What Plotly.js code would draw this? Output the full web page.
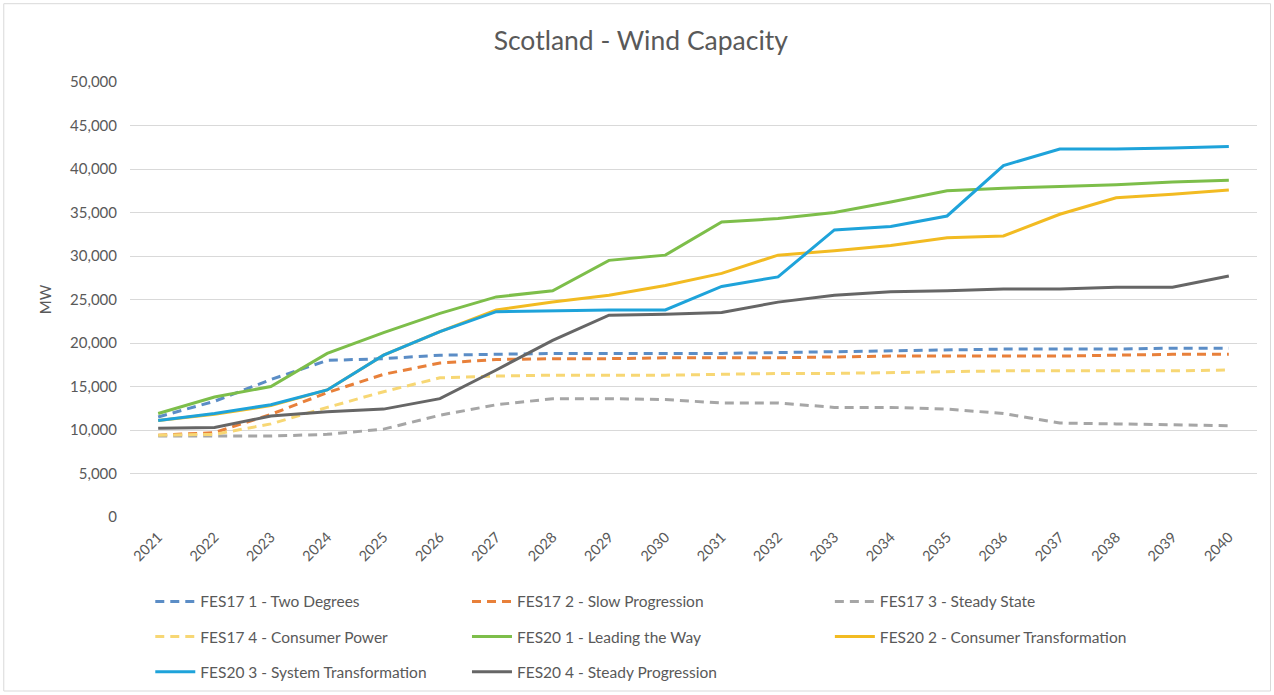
<!DOCTYPE html>
<html>
<head>
<meta charset="utf-8">
<script src="https://cdn.plot.ly/plotly-3.0.1.min.js"></script>
<style>html,body{margin:0;padding:0;background:#fff;}#chart{width:1274px;height:695px;}</style>
</head>
<body>
<div id="chart"></div>
<script>
const years = ["2021","2022","2023","2024","2025","2026","2027","2028","2029","2030","2031","2032","2033","2034","2035","2036","2037","2038","2039","2040"];

const fes17_1 = [11500,13300,15800,18000,18200,18600,18700,18800,18800,18800,18800,18900,19000,19100,19200,19300,19300,19300,19400,19400];
const fes17_2 = [9400,9700,11800,14300,16400,17700,18100,18200,18200,18300,18300,18300,18400,18500,18500,18500,18500,18600,18700,18700];
const fes17_3 = [9300,9300,9300,9500,10100,11700,12900,13600,13600,13500,13100,13100,12600,12600,12400,11900,10800,10700,10600,10500];
const fes17_4 = [9400,9500,10700,12600,14400,16000,16200,16300,16300,16300,16400,16500,16500,16600,16700,16800,16800,16800,16800,16900];
const fes20_1 = [11900,13800,15000,18800,21200,23400,25300,26000,29500,30100,33900,34300,35000,36200,37500,37800,38000,38200,38500,38700];
const fes20_2 = [11100,11800,12800,14600,18600,21300,23800,24700,25500,26600,28000,30100,30600,31200,32100,32300,34800,36700,37100,37600];
const fes20_3 = [11100,11900,12900,14600,18600,21300,23600,23700,23800,23800,26500,27600,33000,33400,34600,40400,42300,42300,42400,42600];
const fes20_4 = [10200,10300,11600,12100,12400,13600,16900,20300,23200,23300,23500,24700,25500,25900,26000,26200,26200,26400,26400,27700];

const names = [
  "FES17 1 - Two Degrees","FES17 2 - Slow Progression","FES17 3 - Steady State",
  "FES17 4 - Consumer Power","FES20 1 - Leading the Way","FES20 2 - Consumer Transformation",
  "FES20 3 - System Transformation","FES20 4 - Steady Progression"
];
const series = [fes17_1,fes17_2,fes17_3,fes17_4,fes20_1,fes20_2,fes20_3,fes20_4];
const colors = ["#5B8DC6","#E8803A","#A6A6A6","#F7D774","#7DBE4A","#F2BB22","#1EA3DA","#666666"];
const dashed = [true,true,true,true,false,false,false,false];
const legendOf = ["legend","legend2","legend3","legend","legend2","legend3","legend","legend2"];

const traces = series.map((vals,i)=>({
  type:"scatter", mode:"lines", x:years, y:vals, name:names[i],
  line:{color:colors[i], width:3, dash: dashed[i] ? "9px,6px" : "solid"},
  legend: legendOf[i], legendgroup:"g"+i, hoverinfo:"x+y+name"
}));

const txt = "#595959";
const fontFam = "Lato, 'Open Sans', 'Liberation Sans', sans-serif";
const legBase = {orientation:"v", yanchor:"top", y:-0.156, xanchor:"left",
  font:{family:fontFam, size:15.5, color:txt}, bgcolor:"rgba(0,0,0,0)", tracegroupgap:12, itemwidth:40};

const layout = {
  width:1274, height:695,
  margin:{l:130, r:17, t:82, b:178, autoexpand:false},
  paper_bgcolor:"#ffffff", plot_bgcolor:"#ffffff",
  font:{family:fontFam, color:txt},
  title:{text:"Scotland - Wind Capacity", x:0.503, xanchor:"center", y:0.942, yanchor:"middle",
    font:{family:fontFam, size:26.5, color:txt}},
  xaxis:{type:"category", range:[-0.5,19.5], tickangle:-45, showgrid:false, zeroline:false, automargin:false,
    showline:false, ticks:"", tickfont:{size:14.5, color:txt}, ticklabelstandoff:8},
  yaxis:{range:[0,50000], dtick:5000, tickformat:",d", showgrid:true, gridcolor:"#D9D9D9", gridwidth:1,
    zeroline:false, showline:false, ticks:"", tickfont:{size:15, color:txt}, ticklabelstandoff:12, automargin:false,
    title:{text:"MW", font:{size:15, color:txt}, standoff:14}},
  legend:Object.assign({}, legBase, {x:0.018}),
  legend2:Object.assign({}, legBase, {x:0.299}),
  legend3:Object.assign({}, legBase, {x:0.621}),
  shapes:[{type:"rect", xref:"paper", yref:"paper", x0:-0.112, x1:1.012, y0:-0.40, y1:1.18,
    line:{color:"#D9D9D9", width:1}, fillcolor:"rgba(0,0,0,0)", layer:"below"}]
};

Plotly.newPlot("chart", traces, layout, {displayModeBar:false, staticPlot:true});
</script>
</body>
</html>
